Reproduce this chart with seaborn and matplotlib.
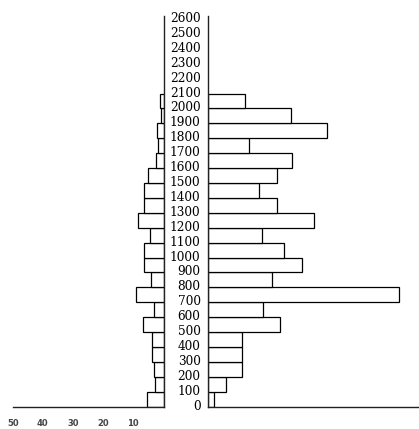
import numpy as np
import pandas as pd
import matplotlib
matplotlib.use("Agg")
import matplotlib.pyplot as plt
import matplotlib.transforms as mtransforms
import seaborn as sns

# bin lower edges (0..2000, width 100)
bin_starts = list(range(0, 2100, 100))
# left-hand series (extends to the left)
left_values = [5.5, 2.7, 3.1, 3.8, 3.8, 6.8, 3.3, 9.0, 4.3, 6.3, 6.3,
               4.4, 8.3, 6.6, 6.6, 5.2, 2.4, 1.7, 2.2, 0.8, 1.0]
# right-hand series (extends to the right)
right_values = [2.0, 6.2, 11.5, 11.5, 11.5, 24.0, 18.4, 63.5, 21.5, 31.3, 25.2,
                18.0, 35.4, 23.0, 16.9, 23.0, 27.9, 13.8, 39.5, 27.5, 12.3]
ytick_values = list(range(0, 2700, 100))
ytick_labels = [str(v) for v in ytick_values]
left_xticks = [10, 20, 30, 40, 50]
left_xticklabels = ["10", "20", "30", "40", "50"]

df = pd.DataFrame({"start": bin_starts, "left": left_values, "right": right_values})
df["mid"] = df["start"] + 50
edges = list(range(0, 2200, 100))

sns.set_style("white")
W, H = 419, 429
fig = plt.figure(figsize=(W / 100, H / 100), dpi=100)

y_bot = (H - 406.7) / H
y_top = (H - 16) / H
axL = fig.add_axes([12.7 / W, y_bot, (163.5 - 12.7) / W, y_top - y_bot])
axR = fig.add_axes([207.5 / W, y_bot, (419 - 207.5) / W, y_top - y_bot])

style = dict(fill=True, color="white", edgecolor="black", linewidth=0.9, alpha=1)
sns.histplot(data=df, y="mid", weights="left", bins=edges, ax=axL, **style)
sns.histplot(data=df, y="mid", weights="right", bins=edges, ax=axR, **style)

ymax = 2620
for ax in (axL, axR):
    ax.set_ylim(0, ymax)
    ax.set_xlabel("")
    ax.set_ylabel("")
    ax.set_facecolor("none")
    for s in ax.spines.values():
        s.set_color("#222222")
        s.set_linewidth(1.0)

# left panel
axL.set_xlim(50, 0)
axL.spines["top"].set_visible(False)
axL.spines["left"].set_visible(False)
axL.spines["right"].set_visible(True)
axL.set_yticks([])
axL.set_xticks(left_xticks)
axL.set_xticklabels(left_xticklabels, fontsize=6, fontweight="bold", color="#444444")
axL.tick_params(axis="x", direction="in", length=3, width=0.8, pad=9, color="#666666")

# right panel
axR.set_xlim(0, 70)
axR.spines["top"].set_visible(False)
axR.spines["right"].set_visible(False)
axR.set_xticks([])
axR.set_yticks(ytick_values)
axR.set_yticklabels(ytick_labels, fontsize=8.7, family="DejaVu Serif", color="#000000")
axR.tick_params(axis="y", length=0, pad=5)
shift = mtransforms.ScaledTranslation(0, 2 / 100, fig.dpi_scale_trans)
for lab in axR.get_yticklabels():
    lab.set_transform(lab.get_transform() + shift)

fig.savefig("out.png", dpi=100, facecolor="white")
